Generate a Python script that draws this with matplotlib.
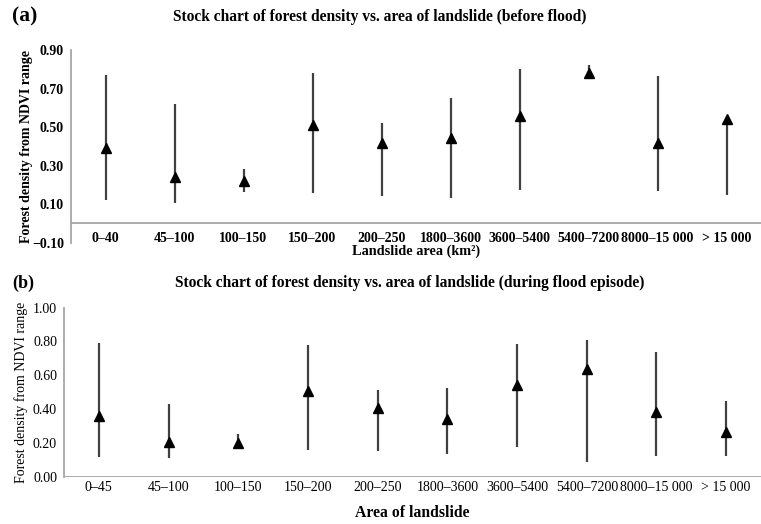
import matplotlib
matplotlib.use("Agg")
import matplotlib.pyplot as plt

plt.rcParams['font.family'] = ['Liberation Serif', 'DejaVu Serif']

cats_a = ["0–40", "45–100", "100–150", "150–200", "200–250", "1800–3600",
          "3600–5400", "5400–7200", "8000–15 000", "> 15 000"]
high_a = [0.77, 0.62, 0.28, 0.78, 0.52, 0.65, 0.80, 0.82, 0.765, 0.54]
low_a = [0.12, 0.105, 0.165, 0.16, 0.14, 0.13, 0.175, 0.755, 0.17, 0.145]
close_a = [0.39, 0.24, 0.22, 0.51, 0.415, 0.445, 0.56, 0.78, 0.415, 0.54]

cats_b = ["0–45", "45–100", "100–150", "150–200", "200–250", "1800–3600",
          "3600–5400", "5400–7200", "8000–15 000", "> 15 000"]
high_b = [0.79, 0.43, 0.25, 0.78, 0.515, 0.525, 0.785, 0.81, 0.735, 0.445]
low_b = [0.115, 0.11, 0.18, 0.155, 0.15, 0.135, 0.175, 0.085, 0.12, 0.12]
close_b = [0.36, 0.205, 0.20, 0.505, 0.405, 0.34, 0.54, 0.635, 0.385, 0.265]

yticks_a = [-0.10, 0.10, 0.30, 0.50, 0.70, 0.90]
yticks_b = [0.00, 0.20, 0.40, 0.60, 0.80, 1.00]

SPINE = '#a6a6a6'
BAR = '#404040'

fig = plt.figure(figsize=(7.61, 5.24), dpi=100)
ax1 = fig.add_axes([0.0933, 0.5368, 0.9067, 0.3678])
ax2 = fig.add_axes([0.0841, 0.0903, 0.9159, 0.3225])

def draw(ax, cats, hi, lo, cl, yticks, bold_ticks, ylabel, ylabel_bold,
         xlabel, xlabel_size, xlabel_pad, pad_x):
    x = list(range(len(cats)))
    ax.vlines(x, lo, hi, colors=BAR, linewidth=1.6, zorder=2)
    ax.plot(x, cl, linestyle='none', marker='^', color='black', markersize=7.5, zorder=3)
    ax.set_xlim(-0.5, len(cats) - 0.5)
    ax.set_ylim(yticks[0], yticks[-1])
    ax.set_yticks(yticks)
    ax.set_yticklabels([f"{t:.2f}".replace('-', '−') for t in yticks],
                       fontsize=10, fontweight='bold' if bold_ticks else 'normal')
    ax.set_xticks(x)
    ax.set_xticklabels(cats, fontsize=10, fontweight='bold' if bold_ticks else 'normal')
    ax.tick_params(axis='both', length=0)
    ax.tick_params(axis='x', pad=pad_x)
    ax.tick_params(axis='y', pad=5)
    for s in ['top', 'right']:
        ax.spines[s].set_visible(False)
    ax.spines['left'].set_color(SPINE)
    ax.spines['left'].set_linewidth(1.3)
    ax.spines['bottom'].set_visible(False)
    ax.axhline(0, color=SPINE, linewidth=1.3, zorder=1)
    ax.set_ylabel(ylabel, fontsize=10, fontweight='bold' if ylabel_bold else 'normal')
    ax.set_xlabel(xlabel, fontsize=xlabel_size, fontweight='bold', labelpad=xlabel_pad)

draw(ax1, cats_a, high_a, low_a, close_a, yticks_a, True,
     "Forest density from NDVI range", True, "Landslide area (km²)", 10.3, 0, -8)
draw(ax2, cats_b, high_b, low_b, close_b, yticks_b, False,
     "Forest density from NDVI range", False, "Area of landslide", 11.3, 8, 3)

ax1.yaxis.set_label_coords(-0.055, 0.5)
ax2.yaxis.set_label_coords(-0.052, 0.5)

fig.text(0.016, 0.968, "(a)", fontsize=15.5, fontweight='bold', va='center', ha='left')
fig.text(0.4993, 0.968, "Stock chart of forest density vs. area of landslide (before flood)",
         fontsize=11.2, fontweight='bold', va='center', ha='center')
fig.text(0.016, 0.46, "(b)", fontsize=13, fontweight='bold', va='center', ha='left')
fig.text(0.539, 0.46, "Stock chart of forest density vs. area of landslide (during flood episode)",
         fontsize=11.2, fontweight='bold', va='center', ha='center')

fig.savefig("out.png", dpi=100)
